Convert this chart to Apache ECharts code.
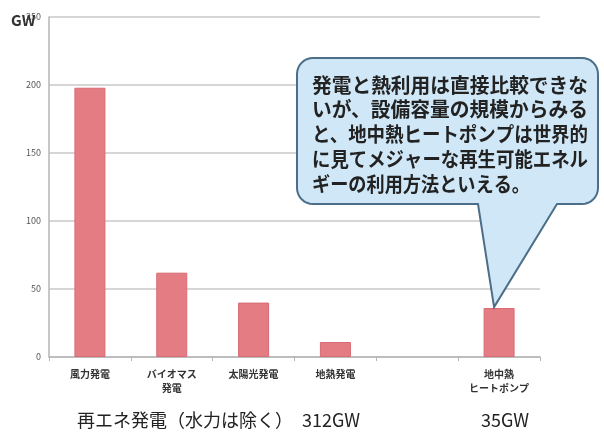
<!DOCTYPE html>
<html><head><meta charset="utf-8">
<script src="https://cdn.jsdelivr.net/npm/echarts@6/dist/echarts.min.js"></script>
<style>html,body{margin:0;padding:0;background:#fff}#c{width:604px;height:433px}</style>
</head><body><div id="c"></div>
<script>
const categories = ['風力発電', 'バイオマス\n発電', '太陽光発電', '地熱発電', '', '地中熱\nヒートポンプ'];
const values = [198, 62, 40, 11, null, 36];
const yTicks = [0, 50, 100, 150, 200, 250];
const calloutLines = ['発電と熱利用は直接比較できな', 'いが、設備容量の規模からみる', 'と、地中熱ヒートポンプは世界的', 'に見てメジャーな再生可能エネル', 'ギーの利用方法といえる。'];
const bottomLeft = '再エネ発電（水力は除く）';
const bottomLeftVal = '312GW';
const bottomRightVal = '35GW';

const FONT = '"Noto Sans CJK JP", "Noto Sans", sans-serif';
const chart = echarts.init(document.getElementById('c'));
chart.setOption({
  animation: false,
  grid: { left: 49, right: 64, top: 17, bottom: 76 },
  xAxis: {
    type: 'category', data: categories,
    axisLine: { lineStyle: { color: '#b5b5b5', width: 1.5 } },
    axisTick: { show: true, length: 4, lineStyle: { color: '#b5b5b5' } },
    axisLabel: { color: '#333', fontSize: 10, fontWeight: 'bold', fontFamily: FONT, margin: 10, lineHeight: 14, interval: 0 }
  },
  yAxis: {
    type: 'value', min: 0, max: yTicks[yTicks.length - 1], interval: 50,
    axisLine: { show: true, lineStyle: { color: '#b5b5b5', width: 1.5 } },
    axisTick: { show: false },
    splitLine: { lineStyle: { color: '#c8c8c8', width: 1.5 } },
    axisLabel: { color: '#555', fontSize: 9, fontFamily: FONT, margin: 8,
      formatter: v => yTicks.includes(v) ? String(v) : '' }
  },
  series: [{
    type: 'bar', data: values, barWidth: 31,
    itemStyle: { color: '#e47c84', borderColor: '#d86a73', borderWidth: 1 }
  }]
});

const tip = chart.convertToPixel({ seriesIndex: 0 }, [categories[5], values[5]]);
const L = 297, T = 58, R = 598, B = 204, r = 16;
const bl = 478, br = 557;
const tx = tip[0] - 5, ty = tip[1] - 1;
function arc(cx, cy, a0, a1) {
  const pts = [];
  for (let i = 0; i <= 8; i++) {
    const a = (a0 + (a1 - a0) * i / 8) * Math.PI / 180;
    pts.push([cx + r * Math.cos(a), cy + r * Math.sin(a)]);
  }
  return pts;
}
const pts = [].concat(
  arc(L + r, T + r, 180, 270),
  arc(R - r, T + r, 270, 360),
  arc(R - r, B - r, 0, 90),
  [[br, B], [tx, ty], [bl, B]],
  arc(L + r, B - r, 90, 180)
);

const calloutFont = 'bold 20px ' + FONT;
const ctx = document.createElement('canvas').getContext('2d');
ctx.font = calloutFont;
const targetW = [276, 276, 276, 276, 218];
const lineEls = calloutLines.map((t, i) => {
  const w = ctx.measureText(t).width;
  return { type: 'text', x: 312, y: 75 + i * 24.8, z: 21, scaleX: targetW[i] / w,
    style: { text: t, fill: '#222', font: calloutFont } };
});

chart.setOption({
  graphic: [
    { type: 'text', x: 11, y: 13, z: 10,
      style: { text: 'GW', fill: '#333', font: 'bold 15px ' + FONT } },
    { type: 'polygon', z: 20, shape: { points: pts },
      style: { fill: '#cfe7f6', stroke: '#4d6e88', lineWidth: 2 } },
    ...lineEls,
    { type: 'text', x: 77, y: 411, z: 10,
      style: { text: bottomLeft, fill: '#222', font: '18px ' + FONT } },
    { type: 'text', x: 302, y: 411, z: 10,
      style: { text: bottomLeftVal, fill: '#222', font: '18px ' + FONT } },
    { type: 'text', x: tip[0] + 6, y: 411, z: 10,
      style: { text: bottomRightVal, fill: '#222', font: '18px ' + FONT, align: 'center' } }
  ]
});
</script></body></html>
